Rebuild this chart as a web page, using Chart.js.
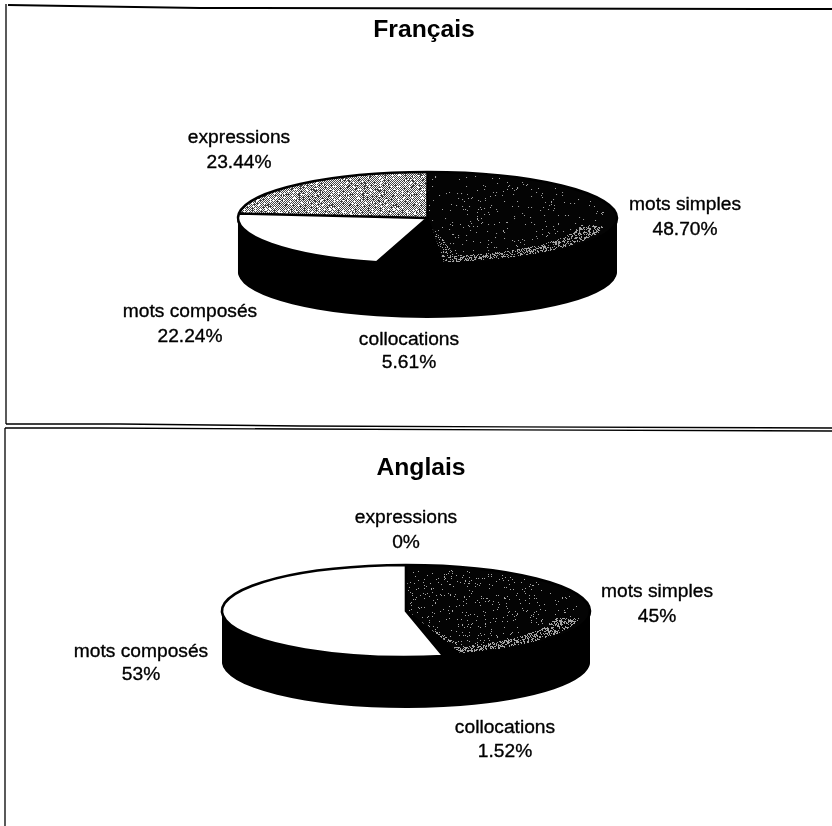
<!DOCTYPE html>
<html><head><meta charset="utf-8">
<script src="https://cdn.jsdelivr.net/npm/chart.js@4"></script>
<style>
html,body{margin:0;padding:0;background:#fff;width:832px;height:826px;overflow:hidden}
canvas,svg{position:absolute;left:0}
</style></head><body>
<canvas id="fr" width="832" height="426" style="top:0"></canvas>
<canvas id="en" width="832" height="400" style="top:426px"></canvas>
<svg width="832" height="826" style="top:0;pointer-events:none">
<g stroke="#000" fill="none">
<path d="M8 5 L70 6 L200 8 L832 9" stroke-width="2"/>
<path d="M6 4 V424" stroke-width="1.3"/>
<path d="M6 424 L120 424 L300 426 L832 428" stroke-width="1.3"/>
<path d="M5 428 L100 428 L300 429 L832 431" stroke-width="1.3"/>
<path d="M5 428 V826" stroke-width="1.3"/>
</g></svg>
<script>
const categories = ['mots simples', 'collocations', 'mots composés', 'expressions'];
const valuesFr = [48.70, 5.61, 22.24, 23.44];
const valuesEn = [45, 1.52, 53, 0];
const labelsFr = ['48.70%', '5.61%', '22.24%', '23.44%'];
const labelsEn = ['45%', '1.52%', '53%', '0%'];

const FONT = '"Liberation Sans", Arial, sans-serif';
const hash = (x, y) => { const s = Math.sin(x * 12.9898 + y * 78.233) * 43758.5453; return s - Math.floor(s); };

function tile(w, h, paint) {
  const c = document.createElement('canvas'); c.width = w; c.height = h;
  const g = c.getContext('2d'), im = g.createImageData(w, h);
  for (let y = 0; y < h; y++) for (let x = 0; x < w; x++) {
    const v = paint(x, y), i = (y * w + x) * 4;
    im.data[i] = im.data[i + 1] = im.data[i + 2] = v; im.data[i + 3] = 255;
  }
  g.putImageData(im, 0, 0);
  return g.createPattern(c, 'repeat');
}
function makeSimple(w, h, geo, endDeg, base) {
  return tile(w, h, (x, y) => {
    const u = (x - geo.cx) / geo.rx, v = (y - geo.cy) / geo.ry, r = Math.hypot(u, v);
    const a = (Math.atan2(u, -v) * 180 / Math.PI + 360) % 360;
    let p = base;
    if (r > 0.95) p = 0;
    else if (r > 0.82 && v > 0.15 && a > 75) p = 0.42;
    else if (Math.abs(a - endDeg) < 5 && r > 0.25) p = 0.22;
    return hash(x, y) < p ? 165 : 4;
  });
}
const grayTile = () => tile(64, 64, (x, y) => {
  const h = hash(x, y);
  if (h < 0.1) return 60; if (h > 0.9) return 255;
  return (x + y) % 2 ? 70 : 250;
});

function pieChart(id, values, texts, geo, titleText, titleCfg, labelPos, endDeg, base) {
  const canvas = document.getElementById(id);
  const W = canvas.width, H = canvas.height;
  const simple = makeSimple(W, H, geo, endDeg, base), gray = grayTile();
  const pad = 2 * titleCfg.cx - W;
  const squash = a => [geo.ry / geo.rx, geo.cy - a.y * geo.ry / geo.rx, geo.cx - a.x];
  const plugin = {
    id: 'flat3d',
    beforeDatasetsDraw(chart) {
      const ctx = chart.ctx, arcs = chart.getDatasetMeta(0).data, [s, t, tx] = squash(arcs[0]);
      const inv = new DOMMatrix([1, 0, 0, 1 / s, -tx, -t / s]);
      simple.setTransform(inv); gray.setTransform(inv);
      ctx.save();
      ctx.fillStyle = '#000';
      for (let d = geo.depth; d >= 0; d--) {
        ctx.save(); ctx.translate(tx, t + d); ctx.scale(1, s);
        ctx.beginPath();
        arcs.forEach(a => { ctx.moveTo(a.x, a.y); ctx.arc(a.x, a.y, a.outerRadius, a.startAngle, a.endAngle); ctx.closePath(); });
        ctx.fill(); ctx.restore();
      }
      ctx.translate(tx, t); ctx.scale(1, s);
    },
    afterDatasetsDraw(chart) {
      const ctx = chart.ctx, arcs = chart.getDatasetMeta(0).data, [s, t, tx] = squash(arcs[0]);
      ctx.restore();
      ctx.save();
      ctx.translate(tx, t); ctx.scale(1, s);
      ctx.beginPath();
      arcs.forEach(a => {
        if (a.endAngle - a.startAngle < 1e-4) return;
        ctx.moveTo(a.x, a.y); ctx.arc(a.x, a.y, a.outerRadius, a.startAngle, a.endAngle); ctx.closePath();
      });
      ctx.restore();
      ctx.strokeStyle = '#000'; ctx.lineWidth = 2.6; ctx.lineJoin = 'round'; ctx.stroke();
    },
    afterDraw(chart) {
      const ctx = chart.ctx;
      ctx.save();
      ctx.fillStyle = '#000'; ctx.strokeStyle = '#000'; ctx.lineWidth = 0.35;
      ctx.font = '19.2px ' + FONT; ctx.textAlign = 'center'; ctx.textBaseline = 'middle';
      categories.forEach((c, i) => {
        const [x, y1, y2] = labelPos[i];
        ctx.fillText(c, x, y1); ctx.strokeText(c, x, y1);
        ctx.fillText(texts[i], x, y2); ctx.strokeText(texts[i], x, y2);
      });
      ctx.restore();
    }
  };
  return new Chart(canvas, {
    type: 'pie',
    data: { labels: categories, datasets: [{
      data: values,
      backgroundColor: [simple, '#000000', '#ffffff', gray],
      borderWidth: 0
    }] },
    options: {
      responsive: false, devicePixelRatio: 1, animation: false,
      radius: geo.rx,
      layout: { padding: { left: Math.max(pad, 0), right: Math.max(-pad, 0) } },
      plugins: {
        legend: { display: false }, tooltip: { enabled: false },
        title: { display: true, fullSize: false, text: titleText, color: '#000', padding: titleCfg.padding,
          font: { family: FONT, size: titleCfg.size, weight: 'bold' } }
      }
    },
    plugins: [plugin]
  });
}

pieChart('fr', valuesFr, labelsFr,
  { cx: 427.5, cy: 218, rx: 189.5, ry: 46, depth: 54 },
  'Français', { size: 24.7, cx: 424, padding: { top: 15, bottom: 6 } },
  [[685, 205, 230], [409, 340, 363], [190, 312, 337], [239, 138, 163]], 175, 0.025);
pieChart('en', valuesEn, labelsEn,
  { cx: 406, cy: 185, rx: 184, ry: 46, depth: 51 },
  'Anglais', { size: 24.7, cx: 421, padding: { top: 27, bottom: 6 } },
  [[657, 166, 191], [505, 302, 326], [141, 226, 249], [406, 92, 117]], 163, 0.04);
</script>
</body></html>
